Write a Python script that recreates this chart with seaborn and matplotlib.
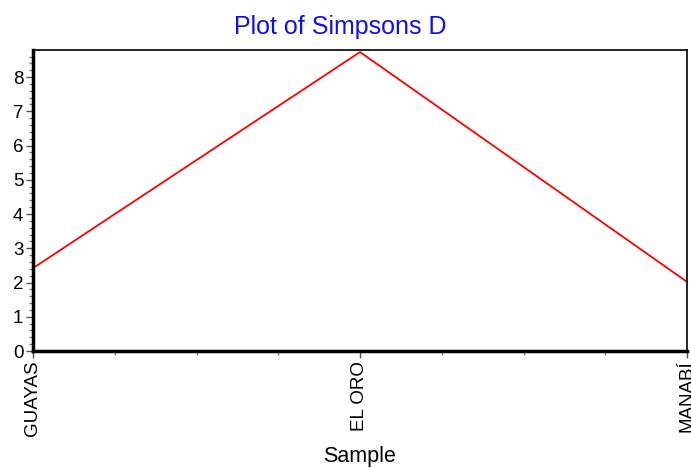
import matplotlib
matplotlib.use('Agg')
import matplotlib.pyplot as plt
from matplotlib.ticker import MultipleLocator, AutoMinorLocator
import pandas as pd
import seaborn as sns

samples = ['GUAYAS', 'EL ORO', 'MANABÍ']
simpsons_d = [2.42, 8.73, 2.02]

df = pd.DataFrame({'Sample': samples, 'D': simpsons_d, 'pos': range(len(samples))})

sns.set_style('white')
plt.rcParams['font.family'] = ['Liberation Sans', 'DejaVu Sans']
plt.rcParams['text.color'] = 'black'
plt.rcParams['xtick.color'] = 'black'
plt.rcParams['ytick.color'] = 'black'

fig = plt.figure(figsize=(6.91, 4.68), dpi=100)
ax = fig.add_axes([33 / 691, 1 - 351 / 468, 654 / 691, 301 / 468])

sns.lineplot(data=df, x='pos', y='D', color='red', linewidth=1.3, ax=ax)

ax.set_xlim(0, len(samples) - 1)
ax.set_ylim(0, 8.79)
ax.set_xticks(df['pos'])
ax.set_xticklabels(samples, rotation=90)
ax.xaxis.set_minor_locator(AutoMinorLocator(4))
ax.yaxis.set_major_locator(MultipleLocator(1))
ax.yaxis.set_minor_locator(MultipleLocator(0.2))
ax.tick_params(axis='both', which='major', direction='out', length=5, width=1,
               color='#555555', labelcolor='black', labelsize=13.5, pad=2,
               left=True, bottom=True)
ax.tick_params(axis='both', which='minor', direction='out', length=3, width=1,
               color='#777777', left=True, bottom=True)

for side in ['top', 'right']:
    ax.spines[side].set_linewidth(1.2)
    ax.spines[side].set_color('black')
for side in ['left', 'bottom']:
    ax.spines[side].set_linewidth(2.5)
    ax.spines[side].set_color('black')

ax.set_xlabel('Sample', fontsize=15.5, labelpad=7, color='black')
ax.set_ylabel('')
fig.text(340 / 691, 1 - 34 / 468, 'Plot of Simpsons D', color='#1010ee',
         fontsize=18, ha='center', va='baseline')

fig.savefig('out.png', dpi=100)
